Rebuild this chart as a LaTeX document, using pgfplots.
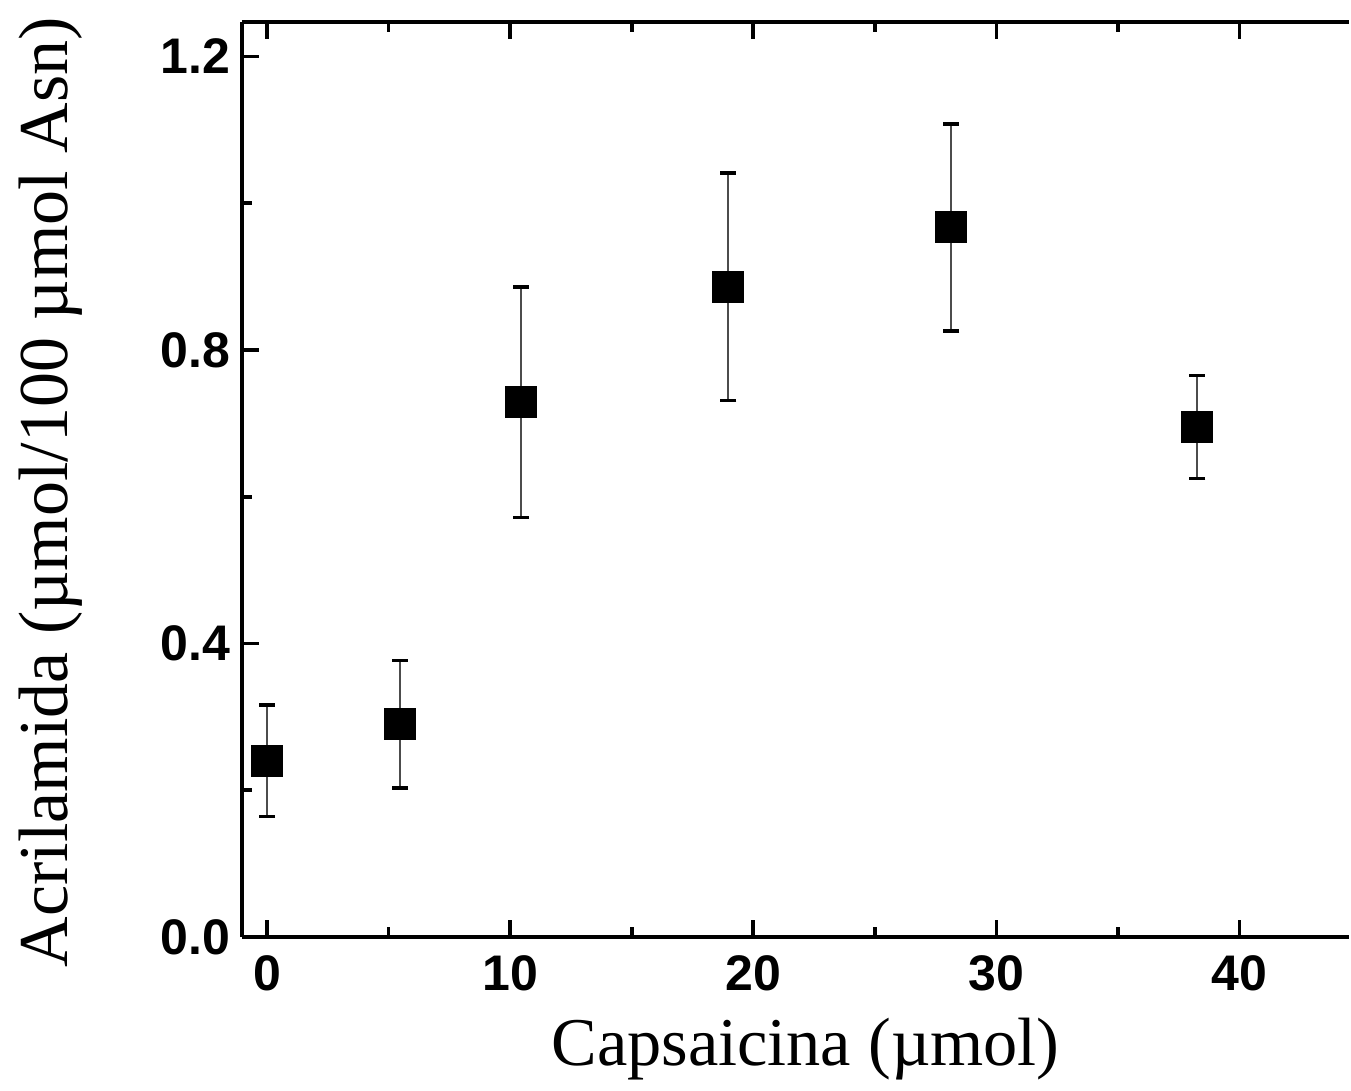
\documentclass[border=0pt]{standalone}
\usepackage{fontspec}
\setmainfont{Liberation Serif}
\newfontfamily\arialfont{Liberation Sans}
\usepackage{pgfplots}
\pgfplotsset{compat=1.18}

\begin{document}
\begin{tikzpicture}
\begin{axis}[
  scale only axis,
  width=332.1pt, height=274.5pt,
  xmin=-1.03, xmax=44.5,
  ymin=0, ymax=1.247,
  axis x line=box, axis y line=left,
  axis line style={-, line width=1.1pt},
  tick align=inside,
  xtick={0,10,20,30,40},
  minor x tick num=1,
  ytick={0,0.4,0.8,1.2},
  minor y tick num=1,
  major tick length=5pt, minor tick length=3pt,
  every tick/.style={black, line width=1.1pt},
  tick label style={font=\arialfont\bfseries\fontsize{15}{15}\selectfont},
  xticklabel style={yshift=-2pt},
  yticklabel style={/pgf/number format/.cd, fixed, fixed zerofill, precision=1},
  /pgf/number format/assume math mode=true,
  xlabel={Capsaicina (µmol)},
  ylabel={Acrilamida (µmol/100 µmol Asn)},
  xlabel style={font=\fontsize{20.5}{20.5}\selectfont,
    at={(axis description cs:0.509,-0.14)}, anchor=base},
  ylabel style={font=\fontsize{21}{21}\selectfont,
    at={(axis description cs:-0.173,0.486)}, anchor=center, rotate=0},
  clip=false,
]

% capsaicina vs acrilamida, mean +- sd
\addplot[only marks, mark=square*, mark size=4.6pt, black,
  error bars/.cd, y dir=both, y explicit,
  error bar style={line width=0.6pt, black!70},
  error mark options={rotate=90, mark size=2.4pt, line width=1pt, black}
] coordinates {
  (0, 0.240) +- (0, 0.076)
  (5.47, 0.290) +- (0, 0.087)
  (10.45, 0.729) +- (0, 0.157)
  (18.97, 0.886) +- (0, 0.155)
  (28.15, 0.967) +- (0, 0.141)
  (38.26, 0.695) +- (0, 0.070)
};
\end{axis}
\path[use as bounding box] (-72.6pt,-42.3pt) rectangle (332.7pt,281.1pt);
\end{tikzpicture}
\end{document}
